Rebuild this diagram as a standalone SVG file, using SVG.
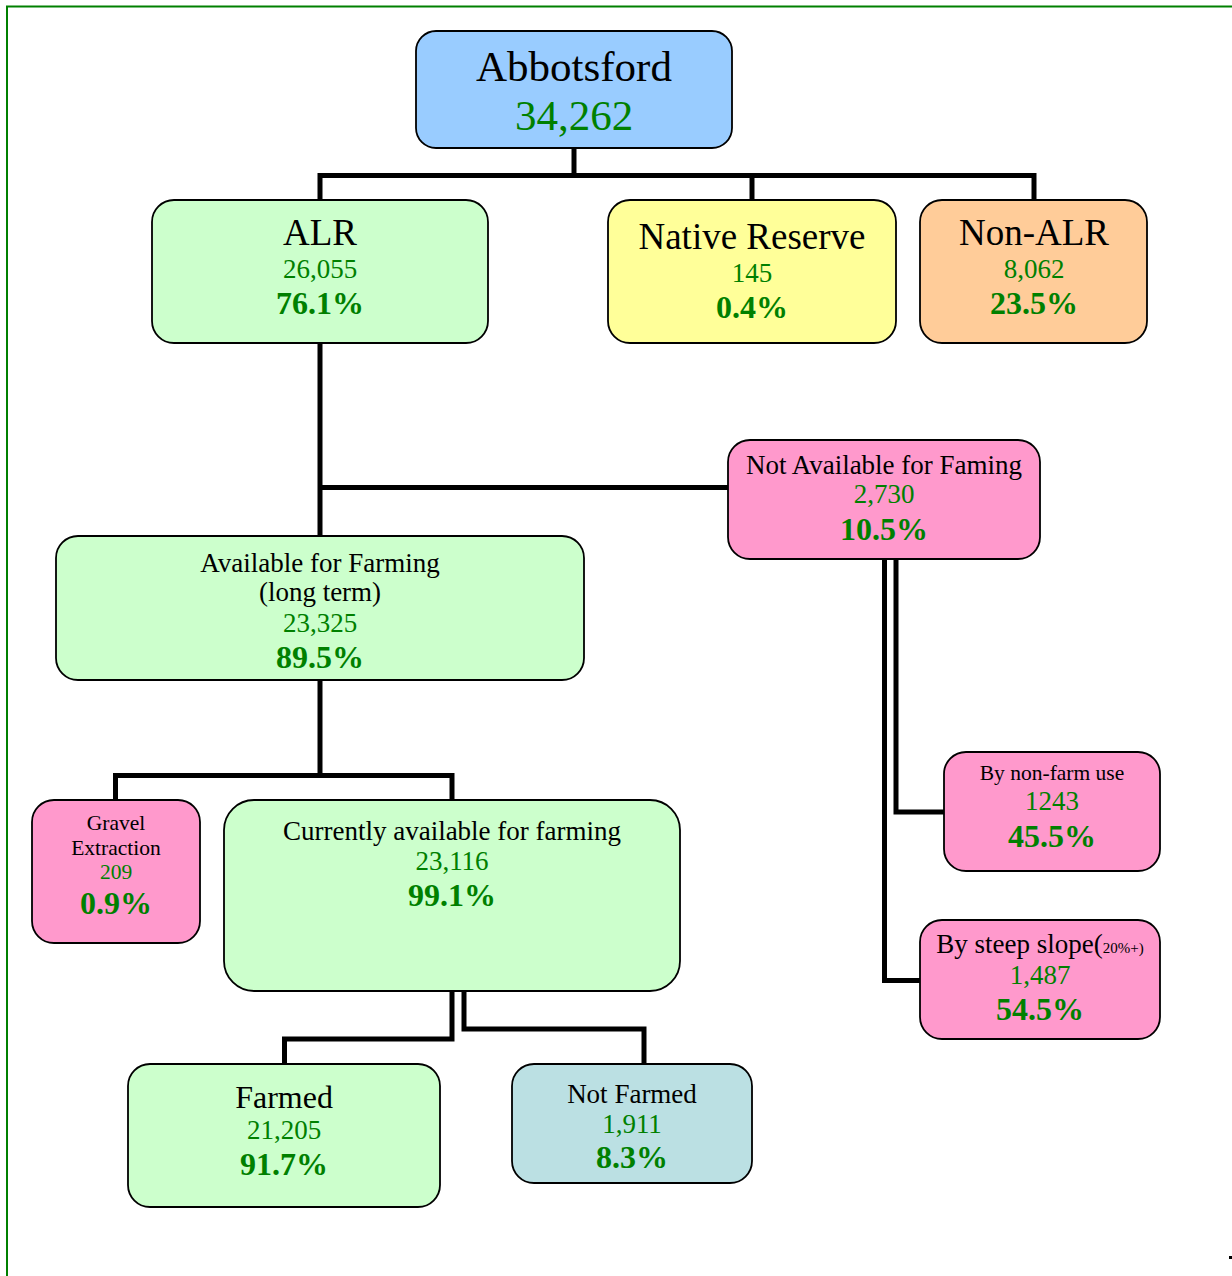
<svg xmlns="http://www.w3.org/2000/svg" width="1232" height="1276" viewBox="0 0 1232 1276">
<style>
.box{stroke:#000;stroke-width:1.8}
.blue{fill:#99ccff}.green{fill:#ccffcc}.yellow{fill:#ffff99}.orange{fill:#ffcc99}.pink{fill:#ff99cc}.teal{fill:#bbe0e3}
text{font-family:"Liberation Serif","Times New Roman",serif;text-anchor:middle}
.t{fill:#000}.n{fill:#008000}.p{fill:#008000;font-weight:bold;font-size:32px}
.c{fill:none;stroke:#000;stroke-width:5;stroke-linejoin:miter}
</style>
<rect x="0" y="0" width="1232" height="1276" fill="#fff"/>
<path d="M7,1276 V6.5 H1232" fill="none" stroke="#008000" stroke-width="2"/>
<g id="connectors">
<path class="c" d="M574,148 V175.5"/>
<path class="c" d="M320,200 V175.5 H1034 V200"/>
<path class="c" d="M752,175.5 V200"/>
<path class="c" d="M320,343 V536"/>
<path class="c" d="M320,487.5 H728"/>
<path class="c" d="M320,680 V775.5"/>
<path class="c" d="M115.5,800 V775.5 H452 V800"/>
<path class="c" d="M896,559 V812 H944"/>
<path class="c" d="M884.5,559 V980.5 H920"/>
<path class="c" d="M452,991 V1039 H284.5 V1064"/>
<path class="c" d="M464,991 V1029 H644 V1064"/>
</g>
<g id="abbotsford">
<rect class="box blue" x="416" y="31" width="316" height="117" rx="20"/>
<text class="t" x="574" y="81" font-size="43">Abbotsford</text>
<text class="n" x="574" y="130" font-size="43">34,262</text>
</g>
<g id="alr">
<rect class="box green" x="152" y="200" width="336" height="143" rx="22"/>
<text class="t" x="320" y="245" font-size="37">ALR</text>
<text class="n" x="320" y="278" font-size="27">26,055</text>
<text class="p" x="320" y="314">76.1%</text>
</g>
<g id="native-reserve">
<rect class="box yellow" x="608" y="200" width="288" height="143" rx="22"/>
<text class="t" x="752" y="249" font-size="37">Native Reserve</text>
<text class="n" x="752" y="282" font-size="27">145</text>
<text class="p" x="752" y="318">0.4%</text>
</g>
<g id="non-alr">
<rect class="box orange" x="920" y="200" width="227" height="143" rx="22"/>
<text class="t" x="1034" y="245" font-size="37">Non-ALR</text>
<text class="n" x="1034" y="278" font-size="27">8,062</text>
<text class="p" x="1034" y="314">23.5%</text>
</g>
<g id="not-available">
<rect class="box pink" x="728" y="440" width="312" height="119" rx="22"/>
<text class="t" x="884" y="474" font-size="27">Not Available for Faming</text>
<text class="n" x="884" y="503" font-size="27">2,730</text>
<text class="p" x="884" y="540">10.5%</text>
</g>
<g id="available">
<rect class="box green" x="56" y="536" width="528" height="144" rx="22"/>
<text class="t" x="320" y="572" font-size="27">Available for Farming</text>
<text class="t" x="320" y="601" font-size="27">(long term)</text>
<text class="n" x="320" y="632" font-size="27">23,325</text>
<text class="p" x="320" y="668">89.5%</text>
</g>
<g id="gravel">
<rect class="box pink" x="32" y="800" width="168" height="143" rx="22"/>
<text class="t" x="116" y="830" font-size="21.5">Gravel</text>
<text class="t" x="116" y="855" font-size="21.5">Extraction</text>
<text class="n" x="116" y="879" font-size="21.5">209</text>
<text class="p" x="116" y="914">0.9%</text>
</g>
<g id="currently-available">
<rect class="box green" x="224" y="800" width="456" height="191" rx="30"/>
<text class="t" x="452" y="840" font-size="27">Currently available for farming</text>
<text class="n" x="452" y="870" font-size="27">23,116</text>
<text class="p" x="452" y="906">99.1%</text>
</g>
<g id="non-farm-use">
<rect class="box pink" x="944" y="752" width="216" height="119" rx="22"/>
<text class="t" x="1052" y="780" font-size="21.5">By non-farm use</text>
<text class="n" x="1052" y="810" font-size="27">1243</text>
<text class="p" x="1052" y="847">45.5%</text>
</g>
<g id="steep-slope">
<rect class="box pink" x="920" y="920" width="240" height="119" rx="22"/>
<text class="t" x="1040" y="953" font-size="27">By steep slope(<tspan font-size="15">20%+)</tspan></text>
<text class="n" x="1040" y="984" font-size="27">1,487</text>
<text class="p" x="1040" y="1020">54.5%</text>
</g>
<g id="farmed">
<rect class="box green" x="128" y="1064" width="312" height="143" rx="22"/>
<text class="t" x="284" y="1108" font-size="32">Farmed</text>
<text class="n" x="284" y="1139" font-size="27">21,205</text>
<text class="p" x="284" y="1175">91.7%</text>
</g>
<g id="not-farmed">
<rect class="box teal" x="512" y="1064" width="240" height="119" rx="22"/>
<text class="t" x="632" y="1103" font-size="27">Not Farmed</text>
<text class="n" x="632" y="1133" font-size="27">1,911</text>
<text class="p" x="632" y="1168">8.3%</text>
</g>
<rect x="1229" y="1256" width="3" height="3" fill="#000"/>
</svg>
